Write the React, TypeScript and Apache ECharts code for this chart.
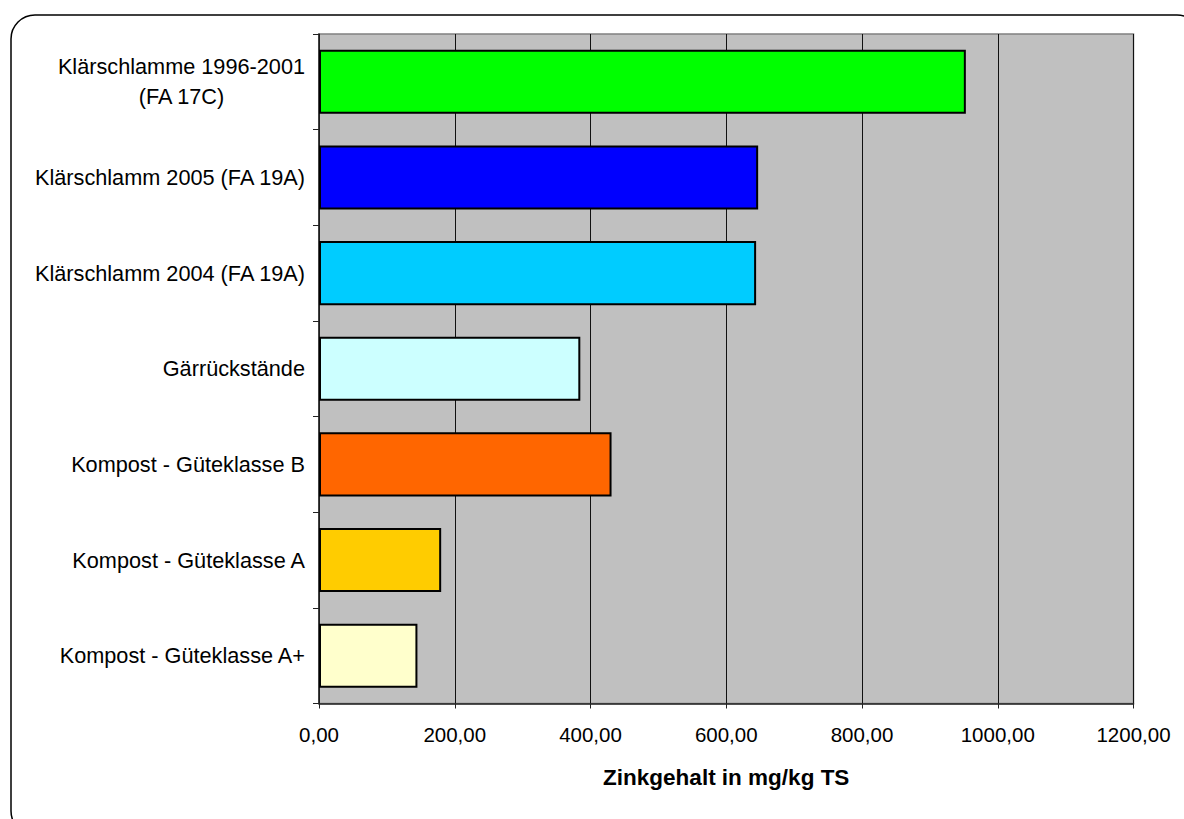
import React, { useEffect, useRef } from "react";
import * as echarts from "echarts";

const categories = [
  "Klärschlamme 1996-2001\n(FA 17C)",
  "Klärschlamm 2005 (FA 19A)",
  "Klärschlamm 2004 (FA 19A)",
  "Gärrückstände",
  "Kompost - Güteklasse B",
  "Kompost - Güteklasse A",
  "Kompost - Güteklasse A+",
];
const values = [953, 647, 644, 385, 431, 180, 145];
const barColors = ["#00FF00", "#0000FF", "#00CCFF", "#CCFFFF", "#FF6600", "#FFCC00", "#FFFFCC"];
const xTicks = { min: 0, max: 1200, interval: 200 };
const xAxisTitle = "Zinkgehalt in mg/kg TS";

export default function App() {
  const ref = useRef<HTMLDivElement>(null);
  useEffect(() => {
    if (!ref.current) return;
    const chart = echarts.init(ref.current, undefined, { renderer: "svg" });
    const font = "Liberation Sans, Arial, sans-serif";
    chart.setOption({
      animation: false,
      backgroundColor: "#ffffff",
      textStyle: { fontFamily: font },
      graphic: [
        {
          type: "rect",
          shape: { x: 11, y: 15, width: 1190, height: 820, r: 24 },
          style: { fill: "none", stroke: "#000", lineWidth: 1.5 },
          z: -1,
        },
      ],
      grid: {
        left: 319,
        top: 34,
        right: 50.5,
        bottom: 115.5,
        show: true,
        backgroundColor: "#C0C0C0",
        borderColor: "#808080",
        borderWidth: 1.5,
      },
      xAxis: {
        type: "value",
        min: xTicks.min,
        max: xTicks.max,
        interval: xTicks.interval,
        name: xAxisTitle,
        nameLocation: "middle",
        nameGap: 62,
        nameTextStyle: { fontSize: 22.5, fontWeight: "bold", color: "#000", fontFamily: font },
        axisLine: { show: true, lineStyle: { color: "#222", width: 1.5 } },
        axisTick: { show: true, length: 5, lineStyle: { color: "#222" } },
        axisLabel: {
          fontSize: 20.5,
          color: "#000",
          margin: 20,
          fontFamily: font,
          formatter: (v: number) => v.toFixed(2).replace(".", ","),
        },
        splitLine: { show: true, lineStyle: { color: "#111", width: 1 } },
      },
      yAxis: {
        type: "category",
        data: categories,
        inverse: true,
        axisLine: { show: true, lineStyle: { color: "#222", width: 1.5 } },
        axisTick: { show: true, length: 6, inside: false, lineStyle: { color: "#222" } },
        axisLabel: {
          fontSize: 21.7,
          color: "#000",
          margin: 14,
          fontFamily: font,
          formatter: (v: string) => {
            if (v.indexOf("\n") >= 0) {
              return v
                .split("\n")
                .map((s) => "{c|" + s + "}")
                .join("\n");
            }
            return v;
          },
          rich: {
            c: { align: "center", fontSize: 21.7, lineHeight: 30, color: "#000", fontFamily: font },
          },
        },
        splitLine: { show: false },
      },
      series: [
        {
          type: "bar",
          barCategoryGap: "33%",
          data: values.map((v, i) => ({
            value: v,
            itemStyle: { color: barColors[i] },
          })),
          itemStyle: { borderColor: "#000", borderWidth: 2 },
        },
      ],
    });
    return () => chart.dispose();
  }, []);
  return (
    <div
      ref={ref}
      style={{ position: "fixed", left: 0, top: 0, width: 1184, height: 819 }}
    />
  );
}
